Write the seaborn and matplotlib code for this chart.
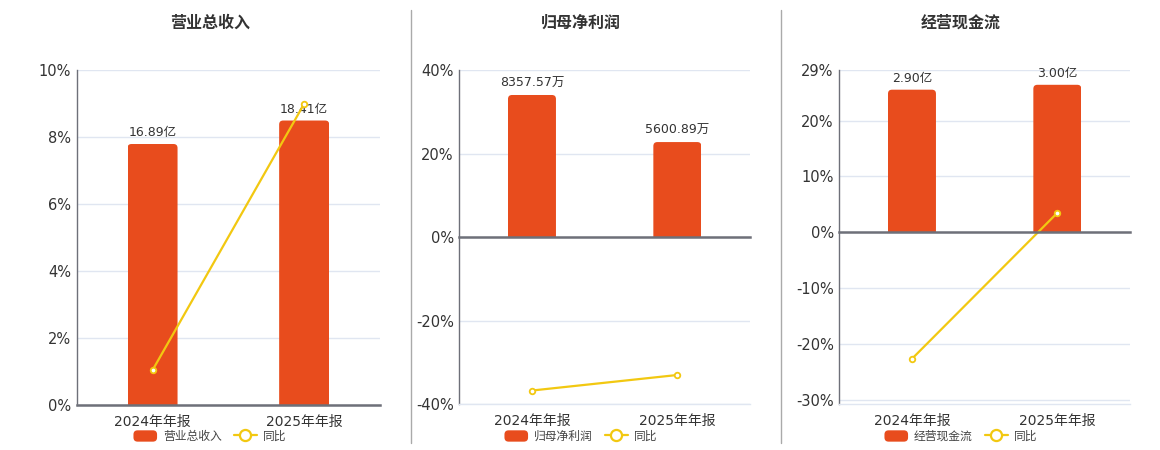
import matplotlib
matplotlib.use('Agg')
import matplotlib.pyplot as plt
import seaborn as sns
from matplotlib.patches import FancyBboxPatch, Patch
from matplotlib.lines import Line2D
from matplotlib.legend_handler import HandlerPatch
from matplotlib.transforms import Bbox, TransformedBbox
from matplotlib.ticker import FixedLocator

sns.set_style('white')
plt.rcParams['font.family'] = ['DejaVu Sans', 'Noto Sans CJK SC']

# data
periods = ['2024年年报', '2025年年报']
titles = ['营业总收入', '归母净利润', '经营现金流']

revenue = [16.89, 18.41]
revenue_labels = ['16.89亿', '18.41亿']
revenue_yoy = [1.04, 9.0]

net_profit = [8357.57, 5600.89]
net_profit_labels = ['8357.57万', '5600.89万']
net_profit_yoy = [-36.7, -32.98]

cash_flow = [2.90, 3.00]
cash_flow_labels = ['2.90亿', '3.00亿']
cash_flow_yoy = [-22.7, 3.45]

pct_ticks = [[0, 2, 4, 6, 8, 10], [-40, -20, 0, 20, 40], [-30, -20, -10, 0, 10, 20, 29]]

# layout
W, H = 1160, 450
BAR_C = '#E84C1D'
LINE_C = '#F2C811'
GRID_C = '#E0E6F1'
AXIS_C = '#6E7079'
TXT_C = '#333333'

panels = [
    dict(vals=revenue, labels=revenue_labels, yoy=revenue_yoy, ticks=pct_ticks[0],
         ylim=(0, 10), bar_lim=(0, 21.66), box=(76.7, 380, 70.3, 405), cx=210),
    dict(vals=net_profit, labels=net_profit_labels, yoy=net_profit_yoy, ticks=pct_ticks[1],
         ylim=(-40, 40), bar_lim=(-9757, 9804), box=(459.3, 750, 70.3, 404.3), cx=581),
    dict(vals=cash_flow, labels=cash_flow_labels, yoy=cash_flow_yoy, ticks=pct_ticks[2],
         ylim=(-30.8, 29), bar_lim=(-3.518, 3.296), box=(839.3, 1130, 70.3, 404), cx=961),
]


def rounded_handle(legend, orig_handle, xdescent, ydescent, width, height, fontsize):
    return FancyBboxPatch((-xdescent, -ydescent), width, height,
                          boxstyle='round,pad=0,rounding_size=3')


fig = plt.figure(figsize=(W / 100, H / 100), dpi=100)

for title, pn in zip(titles, panels):
    x0, x1, ytop, ybot = pn['box']
    ax = fig.add_axes([x0 / W, 1 - ybot / H, (x1 - x0) / W, (ybot - ytop) / H])
    axb = ax.twinx()
    axl = ax.twinx()

    # bars
    sns.barplot(x=periods, y=pn['vals'], ax=axb, color=BAR_C, saturation=1, width=0.33)
    axb.set_ylim(*pn['bar_lim'])
    axb.bar_label(axb.containers[0], labels=pn['labels'], padding=3.5, fontsize=9, color=TXT_C)

    # round the top corners of the bars
    xs = (x1 - x0) / 2.0
    ys = (ybot - ytop) / (pn['bar_lim'][1] - pn['bar_lim'][0])
    rx, ry = 4 / xs, 4 / ys
    for p in list(axb.patches):
        bx, bw, bh = p.get_x(), p.get_width(), p.get_height()
        fb = FancyBboxPatch((bx, -ry), bw, bh + ry,
                            boxstyle=f'round,pad=0,rounding_size={rx}',
                            mutation_aspect=ry / rx, fc=BAR_C, ec='none')
        axb.add_patch(fb)
        fb.set_clip_box(TransformedBbox(Bbox([[bx, 0], [bx + bw, pn['bar_lim'][1]]]), axb.transData))
        p.set_visible(False)

    # yoy line
    sns.pointplot(x=periods, y=pn['yoy'], ax=axl, color=LINE_C, markers='o',
                  linewidth=1.6, markersize=4, markerfacecolor='white',
                  markeredgecolor=LINE_C, markeredgewidth=1.3)
    axl.set_ylim(*pn['ylim'])

    # percent axis
    ax.set_ylim(*pn['ylim'])
    ax.set_xlim(-0.5, 1.5)
    ax.set_yticks(pn['ticks'])
    ax.set_yticklabels([f'{t}%' for t in pn['ticks']])
    ax.yaxis.grid(True, color=GRID_C, lw=1)
    ax.xaxis.grid(False)
    ax.set_axisbelow(True)
    ax.xaxis.set_major_locator(FixedLocator([0, 1]))
    ax.set_xticklabels(periods)
    ax.xaxis.set_minor_locator(FixedLocator([-0.5, 0.5, 1.5]))
    ax.tick_params(axis='y', length=0, pad=4, labelsize=10.5, labelcolor=TXT_C)
    ax.tick_params(axis='x', which='both', length=0, pad=7, labelsize=10, labelcolor=TXT_C)
    for s in ['top', 'right']:
        ax.spines[s].set_visible(False)
    ax.spines['left'].set_color(AXIS_C)
    ax.spines['left'].set_linewidth(1)
    ax.spines['bottom'].set_color(GRID_C)
    ax.spines['bottom'].set_linewidth(1)

    for a in (axb, axl):
        a.set_xlabel('')
        a.set_ylabel('')
        a.set_yticks([])
        a.grid(False)
        for s in ['top', 'right', 'left', 'bottom']:
            a.spines[s].set_visible(False)
    # zero line with tick marks on top
    axl.spines['bottom'].set_visible(True)
    axl.spines['bottom'].set_position(('data', 0))
    axl.spines['bottom'].set_color(AXIS_C)
    axl.spines['bottom'].set_linewidth(1.8)
    axl.tick_params(axis='x', which='major', length=0, labelbottom=False)
    axl.tick_params(axis='x', which='minor', bottom=True, length=5, width=1, color=AXIS_C,
                    direction='out', labelbottom=False)
    axb.tick_params(axis='x', which='both', length=0, labelbottom=False)

    fig.text(pn['cx'] / W, 1 - 23 / H, title, ha='center', va='center',
             fontsize=11.5, fontweight='bold', color=TXT_C)

    handles = [Patch(facecolor=BAR_C, edgecolor='none', label=title),
               Line2D([], [], color=LINE_C, lw=1.6, marker='o', markersize=8,
                      markerfacecolor='white', markeredgewidth=1.6, label='同比')]
    fig.legend(handles=handles, loc='center', bbox_to_anchor=(pn['cx'] / W, 1 - 436.5 / H),
               ncol=2, frameon=False, fontsize=8.5, handlelength=2.0, handleheight=1.1,
               handletextpad=0.5, columnspacing=1.0, labelcolor='#444444',
               handler_map={Patch: HandlerPatch(patch_func=rounded_handle)})

# panel separators
for sx in (411, 781):
    fig.add_artist(Line2D([sx / W, sx / W], [1 - 10 / H, 1 - 443 / H], color='#AAAAAA', lw=1))

fig.savefig('out.png', dpi=100, facecolor='white')
